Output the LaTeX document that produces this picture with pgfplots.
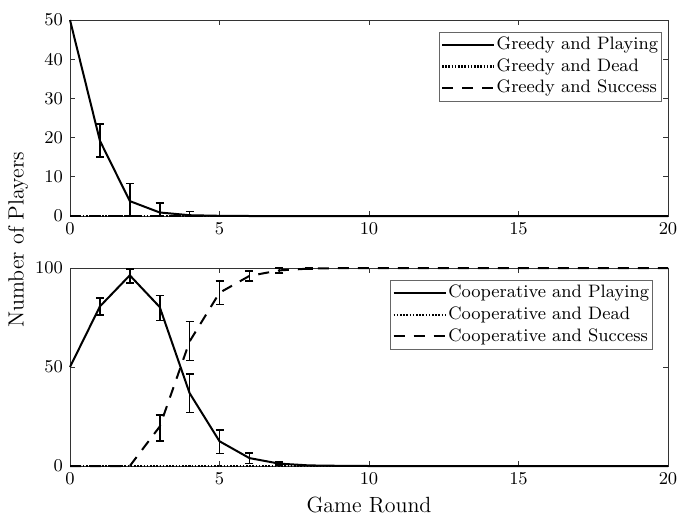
\documentclass[border=0pt]{standalone}
\usepackage{pgfplots}
\pgfplotsset{compat=1.18}

\pgfplotsset{
  playing/.style={black, line width=1pt, solid},
  dead/.style={black, line width=1.1pt, dash pattern=on 0.8pt off 0.8pt},
  success/.style={black, line width=1pt, dash pattern=on 5.5pt off 4.5pt},
  errs/.style={draw=none, mark=none, forget plot,
    error bars/.cd, y dir=both, y explicit, error mark=|,
    error bar style={draw=black, solid, line width=0.8pt},
    error mark options={draw=black, solid, line width=0.8pt, mark size=2pt}},
  panel/.style={
    width=299pt, scale only axis,
    xmin=0, xmax=20, xtick={0,5,10,15,20},
    axis line style={black!80, line width=0.5pt},
    tick style={black!80, line width=0.5pt},
    tick align=inside, tick pos=both, major tick length=2.5pt,
    ticklabel style={font=\fontsize{9}{10}\selectfont},
    clip=false,
    legend cell align=left,
    legend style={draw=black!60, line width=0.4pt, anchor=north east,
      font=\fontsize{9}{10}\selectfont, inner sep=1pt,
      nodes={inner sep=0.8pt, text height=7pt, text depth=2.2pt}},
    legend image code/.code={\draw[##1] (0pt,0pt) -- (26pt,0pt);},
  },
}

\begin{document}
\begin{tikzpicture}
\useasboundingbox (0pt,0pt) rectangle (339pt,260.5pt);

% top panel: greedy
\begin{axis}[panel, at={(35pt,152.5pt)}, anchor=south west, height=98pt,
  ymin=0, ymax=50, ytick={0,10,20,30,40,50},
  legend style={at={(rel axis cs:0.99,0.94)}}]
\addplot[playing] coordinates {
  (0,50) (1,19.2) (2,3.8) (3,0.9) (4,0.2) (5,0.05) (6,0) (7,0) (8,0) (9,0) (10,0)
  (11,0) (12,0) (13,0) (14,0) (15,0) (16,0) (17,0) (18,0) (19,0) (20,0)};
\addlegendentry{Greedy and Playing}
\addplot[dead] coordinates {
  (0,0) (1,0) (2,0) (3,0) (4,0) (5,0) (6,0) (7,0) (8,0) (9,0) (10,0)
  (11,0) (12,0) (13,0) (14,0) (15,0) (16,0) (17,0) (18,0) (19,0) (20,0)};
\addlegendentry{Greedy and Dead}
\addplot[success] coordinates {
  (0,0) (1,0) (2,0) (3,0) (4,0) (5,0) (6,0) (7,0) (8,0) (9,0) (10,0)
  (11,0) (12,0) (13,0) (14,0) (15,0) (16,0) (17,0) (18,0) (19,0) (20,0)};
\addlegendentry{Greedy and Success}
\addplot[errs] coordinates {
  (1,19.2) += (0,4.3) -= (0,4.1)
  (2,3.8) += (0,4.5) -= (0,3.8)
  (3,0.9) += (0,2.4) -= (0,0.9)
  (4,0.2) += (0,0.9) -= (0,0.2)};
\end{axis}

% bottom panel: cooperative
\begin{axis}[panel, at={(35pt,27.5pt)}, anchor=south west, height=99pt,
  ymin=0, ymax=100, ytick={0,50,100},
  legend style={at={(rel axis cs:0.975,0.94)}}]
\addplot[playing] coordinates {
  (0,50) (1,80.6) (2,96.3) (3,80.3) (4,36.8) (5,12.5) (6,4.0) (7,1.2) (8,0.3) (9,0.1) (10,0)
  (11,0) (12,0) (13,0) (14,0) (15,0) (16,0) (17,0) (18,0) (19,0) (20,0)};
\addlegendentry{Cooperative and Playing}
\addplot[dead] coordinates {
  (0,0) (1,0) (2,0) (3,0) (4,0) (5,0) (6,0) (7,0) (8,0) (9,0) (10,0)
  (11,0) (12,0) (13,0) (14,0) (15,0) (16,0) (17,0) (18,0) (19,0) (20,0)};
\addlegendentry{Cooperative and Dead}
\addplot[success] coordinates {
  (0,0) (1,0) (2,0) (3,19.9) (4,62.9) (5,87.5) (6,96.0) (7,98.8) (8,99.7) (9,99.9) (10,100)
  (11,100) (12,100) (13,100) (14,100) (15,100) (16,100) (17,100) (18,100) (19,100) (20,100)};
\addlegendentry{Cooperative and Success}
\addplot[errs] coordinates {
  (1,80.6) += (0,4.2) -= (0,4.2)
  (2,96.3) += (0,3.2) -= (0,3.9)
  (3,80.3) += (0,5.9) -= (0,6.9)
  (4,36.8) += (0,9.6) -= (0,9.8)
  (5,12.5) += (0,5.7) -= (0,6.1)
  (6,4.0) += (0,2.7) -= (0,2.7)
  (7,1.2) += (0,0.8) -= (0,0.8)};
\addplot[errs] coordinates {
  (3,19.9) += (0,5.9) -= (0,7.3)
  (4,62.9) += (0,10.1) -= (0,9.6)
  (5,87.5) += (0,6.0) -= (0,6.0)
  (6,96.0) += (0,2.5) -= (0,2.5)
  (7,98.8) += (0,1.2) -= (0,1.2)
  (8,99.7) += (0,0.3) -= (0,0.3)};
\end{axis}

\node[rotate=90, font=\fontsize{11}{12}\selectfont] at (9pt,140.5pt) {Number of Players};
\node[font=\fontsize{11}{12}\selectfont] at (184.5pt,8pt) {Game Round};
\end{tikzpicture}
\end{document}
